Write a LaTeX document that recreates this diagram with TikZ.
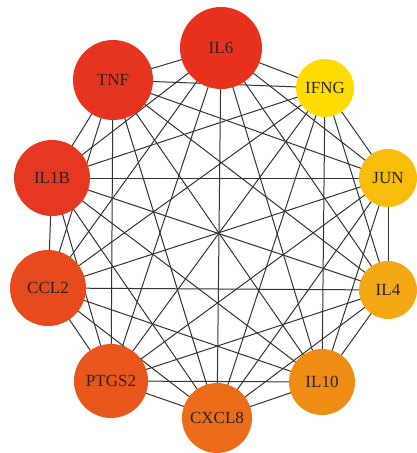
\documentclass[tikz,border=0pt]{standalone}
\usepackage{fontspec}
\setmainfont{Liberation Serif}
\usetikzlibrary{backgrounds}
\definecolor{cil6}{HTML}{E8321E}
\definecolor{ctnf}{HTML}{E63420}
\definecolor{cil1b}{HTML}{E63820}
\definecolor{cccl2}{HTML}{E84A1E}
\definecolor{cptgs2}{HTML}{E8561C}
\definecolor{ccxcl8}{HTML}{EC6C1A}
\definecolor{cil10}{HTML}{F08C14}
\definecolor{cil4}{HTML}{F4A814}
\definecolor{cjun}{HTML}{F8BC0A}
\definecolor{cifng}{HTML}{FFDC00}
\tikzset{
  gene/.style={circle,inner sep=0pt,text=black!85,font=\fontsize{17}{20}\selectfont},
  link/.style={draw=black!80,line width=1pt}
}
\begin{document}
\begin{tikzpicture}[x=1pt,y=-1pt]
    \useasboundingbox (0,0) rectangle (416,453);
    % genes round the ring
    \node[gene,fill=cil6,minimum size=82pt] (il6) at (221,48) {IL6};
    \node[gene,fill=cifng,minimum size=58pt] (ifng) at (325,88) {IFNG};
    \node[gene,fill=cjun,minimum size=58pt] (jun) at (388,178) {JUN};
    \node[gene,fill=cil4,minimum size=58pt] (il4) at (388,290) {IL4};
    \node[gene,fill=cil10,minimum size=66pt] (il10) at (322,382) {IL10};
    \node[gene,fill=ccxcl8,minimum size=70pt] (cxcl8) at (217,418) {CXCL8};
    \node[gene,fill=cptgs2,minimum size=74pt] (ptgs2) at (111,381) {PTGS2};
    \node[gene,fill=cccl2,minimum size=76pt] (ccl2) at (48,288) {CCL2};
    \node[gene,fill=cil1b,minimum size=76pt] (il1b) at (52,178) {IL1B};
    \node[gene,fill=ctnf,minimum size=80pt] (tnf) at (113,80) {TNF};
    % every gene linked to every other
    \begin{pgfonlayer}{background}
      \foreach \a [count=\i] in {il6,ifng,jun,il4,il10,cxcl8,ptgs2,ccl2,il1b,tnf}
        \foreach \b [count=\j] in {il6,ifng,jun,il4,il10,cxcl8,ptgs2,ccl2,il1b,tnf}
          {\ifnum\j>\i \draw[link] (\a.center) -- (\b.center); \fi}
    \end{pgfonlayer}
\end{tikzpicture}
\end{document}
